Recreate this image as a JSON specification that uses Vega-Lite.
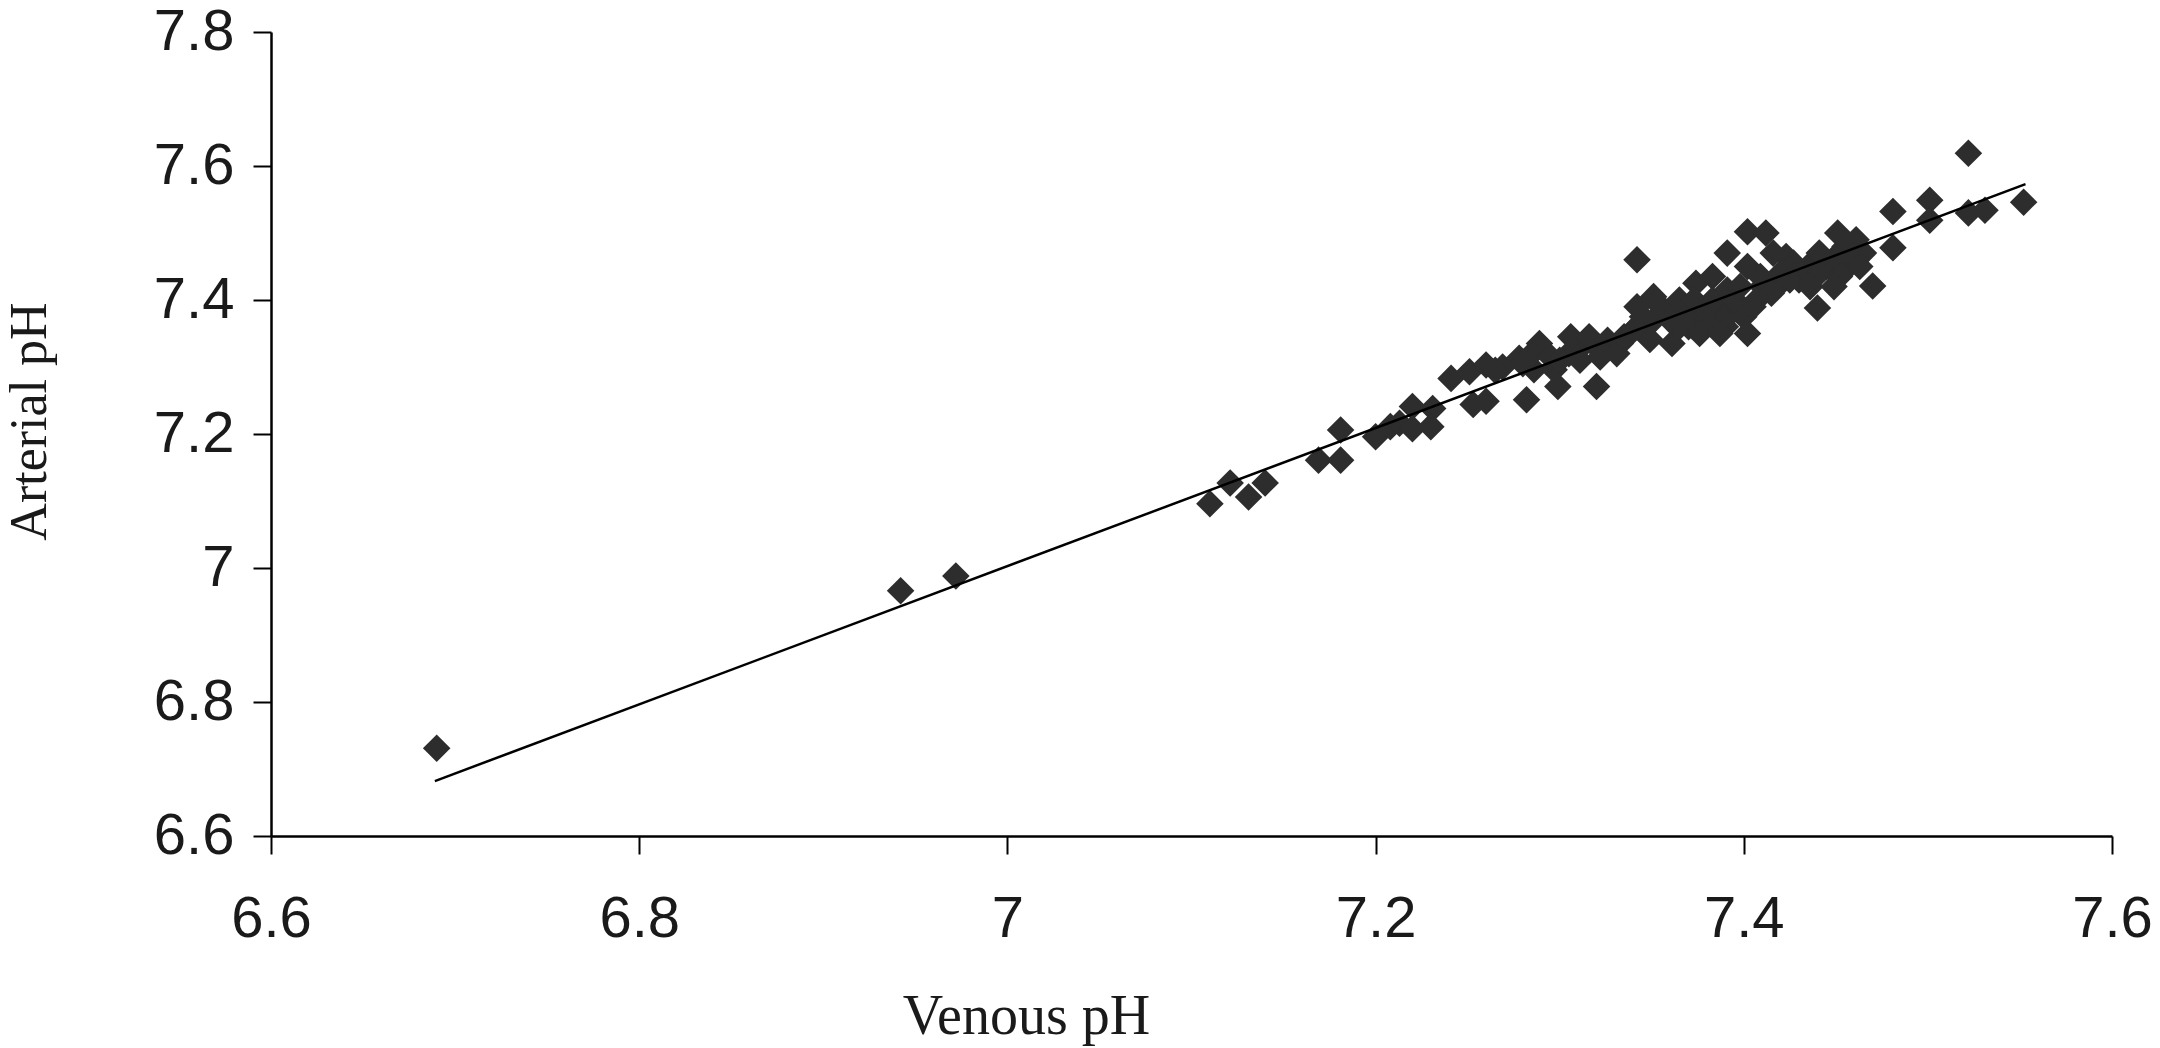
{
  "$schema": "https://vega.github.io/schema/vega-lite/v6.json",
  "width": 1841,
  "height": 804,
  "autosize": {"type": "none"},
  "padding": {"left": 271, "top": 32, "right": 48, "bottom": 212},
  "background": "white",
  "config": {
    "view": {"stroke": null},
    "axis": {
      "grid": false,
      "domainColor": "black",
      "domainWidth": 2.5,
      "tickColor": "black",
      "tickWidth": 2,
      "tickSize": 18,
      "labelFont": "Liberation Sans",
      "labelFontSize": 58,
      "labelColor": "#1a1a1a",
      "labelOverlap": false,
      "labelBound": false,
      "labelFlush": false,
      "titleFont": "Liberation Serif",
      "titleFontWeight": "normal",
      "titleColor": "#1a1a1a"
    }
  },
  "datasets": {
    "pts": [
      {"v": 6.69, "a": 6.731}, {"v": 6.942, "a": 6.966}, {"v": 6.972, "a": 6.988},
      {"v": 7.11, "a": 7.096}, {"v": 7.121, "a": 7.127}, {"v": 7.131, "a": 7.106}, {"v": 7.14, "a": 7.127},
      {"v": 7.169, "a": 7.161}, {"v": 7.181, "a": 7.161}, {"v": 7.181, "a": 7.206},
      {"v": 7.2, "a": 7.196}, {"v": 7.208, "a": 7.211}, {"v": 7.213, "a": 7.216},
      {"v": 7.22, "a": 7.241}, {"v": 7.231, "a": 7.238}, {"v": 7.22, "a": 7.208}, {"v": 7.23, "a": 7.211},
      {"v": 7.241, "a": 7.283}, {"v": 7.251, "a": 7.293}, {"v": 7.253, "a": 7.244}, {"v": 7.26, "a": 7.249},
      {"v": 7.26, "a": 7.303}, {"v": 7.269, "a": 7.3}, {"v": 7.282, "a": 7.251}, {"v": 7.278, "a": 7.313},
      {"v": 7.289, "a": 7.335}, {"v": 7.286, "a": 7.296}, {"v": 7.297, "a": 7.296}, {"v": 7.299, "a": 7.271},
      {"v": 7.32, "a": 7.271},
      {"v": 7.265, "a": 7.295}, {"v": 7.28, "a": 7.305}, {"v": 7.285, "a": 7.32}, {"v": 7.295, "a": 7.315},
      {"v": 7.305, "a": 7.32}, {"v": 7.31, "a": 7.325}, {"v": 7.32, "a": 7.33}, {"v": 7.33, "a": 7.33},
      {"v": 7.306, "a": 7.345}, {"v": 7.316, "a": 7.345}, {"v": 7.326, "a": 7.34}, {"v": 7.333, "a": 7.335},
      {"v": 7.3, "a": 7.31}, {"v": 7.311, "a": 7.31}, {"v": 7.322, "a": 7.315}, {"v": 7.331, "a": 7.32},
      {"v": 7.342, "a": 7.46},
      {"v": 7.342, "a": 7.39}, {"v": 7.351, "a": 7.405}, {"v": 7.342, "a": 7.36}, {"v": 7.351, "a": 7.37},
      {"v": 7.362, "a": 7.385}, {"v": 7.349, "a": 7.341}, {"v": 7.361, "a": 7.335}, {"v": 7.365, "a": 7.36},
      {"v": 7.335, "a": 7.345}, {"v": 7.34, "a": 7.355}, {"v": 7.345, "a": 7.375}, {"v": 7.355, "a": 7.39},
      {"v": 7.365, "a": 7.4}, {"v": 7.37, "a": 7.38}, {"v": 7.375, "a": 7.385}, {"v": 7.385, "a": 7.39},
      {"v": 7.39, "a": 7.395}, {"v": 7.36, "a": 7.37}, {"v": 7.37, "a": 7.36}, {"v": 7.39, "a": 7.36},
      {"v": 7.4, "a": 7.375}, {"v": 7.405, "a": 7.39}, {"v": 7.41, "a": 7.42},
      {"v": 7.374, "a": 7.425}, {"v": 7.383, "a": 7.435}, {"v": 7.373, "a": 7.4}, {"v": 7.383, "a": 7.4},
      {"v": 7.391, "a": 7.415}, {"v": 7.38, "a": 7.37}, {"v": 7.391, "a": 7.375}, {"v": 7.376, "a": 7.35},
      {"v": 7.387, "a": 7.35}, {"v": 7.398, "a": 7.385}, {"v": 7.395, "a": 7.4},
      {"v": 7.391, "a": 7.47}, {"v": 7.402, "a": 7.502}, {"v": 7.412, "a": 7.5}, {"v": 7.402, "a": 7.45},
      {"v": 7.416, "a": 7.47}, {"v": 7.423, "a": 7.465}, {"v": 7.409, "a": 7.435}, {"v": 7.42, "a": 7.425},
      {"v": 7.407, "a": 7.4}, {"v": 7.402, "a": 7.35}, {"v": 7.398, "a": 7.42}, {"v": 7.427, "a": 7.455},
      {"v": 7.415, "a": 7.41}, {"v": 7.43, "a": 7.43},
      {"v": 7.42, "a": 7.44}, {"v": 7.425, "a": 7.445}, {"v": 7.435, "a": 7.45}, {"v": 7.44, "a": 7.455},
      {"v": 7.445, "a": 7.45}, {"v": 7.455, "a": 7.445}, {"v": 7.46, "a": 7.475}, {"v": 7.455, "a": 7.48},
      {"v": 7.465, "a": 7.47},
      {"v": 7.522, "a": 7.619}, {"v": 7.552, "a": 7.546}, {"v": 7.481, "a": 7.532}, {"v": 7.501, "a": 7.549},
      {"v": 7.501, "a": 7.519}, {"v": 7.522, "a": 7.53}, {"v": 7.531, "a": 7.534}, {"v": 7.481, "a": 7.478},
      {"v": 7.47, "a": 7.421}, {"v": 7.44, "a": 7.388},
      {"v": 7.451, "a": 7.5}, {"v": 7.461, "a": 7.49}, {"v": 7.441, "a": 7.47}, {"v": 7.45, "a": 7.465},
      {"v": 7.461, "a": 7.46}, {"v": 7.431, "a": 7.44}, {"v": 7.441, "a": 7.44}, {"v": 7.452, "a": 7.435},
      {"v": 7.463, "a": 7.45}, {"v": 7.425, "a": 7.43}, {"v": 7.436, "a": 7.42}, {"v": 7.449, "a": 7.42}
    ],
    "fit": [{"v": 6.689, "a": 6.682}, {"v": 7.553, "a": 7.573}]
  },
  "layer": [
    {
      "data": {"name": "pts"},
      "mark": {"type": "point", "shape": "diamond", "filled": true, "size": 760, "color": "#2d2d2d", "opacity": 1},
      "encoding": {
        "x": {
          "field": "v", "type": "quantitative",
          "scale": {"domain": [6.6, 7.6], "nice": false, "zero": false},
          "axis": {
            "values": [6.6, 6.8, 7, 7.2, 7.4, 7.6], "format": "~g",
            "labelPadding": 36,
            "title": "Venous pH", "titleFontSize": 56,
            "titleX": 755, "titleY": 197, "titleAlign": "center", "titleBaseline": "alphabetic"
          }
        },
        "y": {
          "field": "a", "type": "quantitative",
          "scale": {"domain": [6.6, 7.8], "nice": false, "zero": false},
          "axis": {
            "values": [6.6, 6.8, 7, 7.2, 7.4, 7.6, 7.8], "format": "~g",
            "labelPadding": 19,
            "title": "Arterial pH", "titleFontSize": 52, "titleAngle": -90,
            "titleX": -226, "titleY": 389, "titleAlign": "center", "titleBaseline": "alphabetic"
          }
        }
      }
    },
    {
      "data": {"name": "fit"},
      "mark": {"type": "line", "color": "black", "strokeWidth": 2.5},
      "encoding": {
        "x": {"field": "v", "type": "quantitative"},
        "y": {"field": "a", "type": "quantitative"}
      }
    }
  ]
}
